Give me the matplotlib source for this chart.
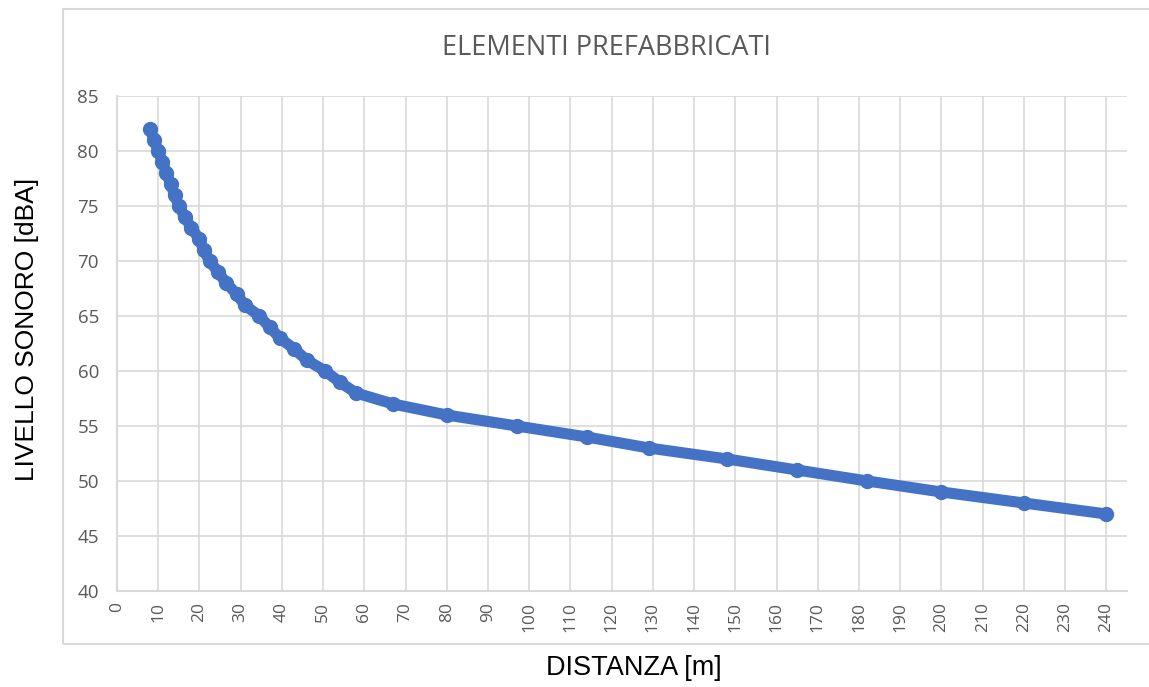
import matplotlib.pyplot as plt
from matplotlib.patches import Rectangle

# Sound level vs distance (one marker per dB step).
distance_m = [8, 9, 10, 11, 12, 13, 14, 15, 16.5, 18, 20, 21, 22.5, 24.5, 26.5,
              29, 31, 34.5, 37, 39.5, 43, 46, 50.5, 54, 58, 67, 80, 97, 114,
              129, 148, 165, 182, 200, 220, 240]
level_dba = [82, 81, 80, 79, 78, 77, 76, 75, 74, 73, 72, 71, 70, 69, 68,
             67, 66, 65, 64, 63, 62, 61, 60, 59, 58, 57, 56, 55, 54,
             53, 52, 51, 50, 49, 48, 47]

x_ticks = list(range(0, 250, 10))
y_ticks = list(range(40, 90, 5))

TITLE = "ELEMENTI PREFABBRICATI"
X_LABEL = "DISTANZA [m]"
Y_LABEL = "LIVELLO SONORO [dBA]"

LINE_COLOR = "#4472C4"
GRID_COLOR = "#D9D9D9"
TICK_COLOR = "#595959"
LABEL_FONT = ["Liberation Sans", "DejaVu Sans"]
TICK_FONT = ["Open Sans", "DejaVu Sans"]

fig = plt.figure(figsize=(11.49, 6.87), dpi=100)
ax = fig.add_axes([117 / 1149, 1 - 591 / 687, 1010 / 1149, 495 / 687])

# Excel-like chart area frame (runs off the right edge)
fig.patches.append(Rectangle((63 / 1149, 1 - 644 / 687), 1.0, (644 - 9) / 687,
                             transform=fig.transFigure, fill=False,
                             edgecolor=GRID_COLOR, linewidth=1.5, zorder=0))

ax.plot(distance_m, level_dba, color=LINE_COLOR, linewidth=8,
        marker="o", markersize=10, markerfacecolor=LINE_COLOR,
        markeredgecolor=LINE_COLOR, solid_capstyle="round", zorder=3)

ax.set_xlim(0, 245)
ax.set_ylim(40, 85)
ax.set_xticks(x_ticks)
ax.set_yticks(y_ticks)
ax.set_xticklabels([str(v) for v in x_ticks], rotation=90)
ax.tick_params(axis="both", length=0, colors=TICK_COLOR)
ax.tick_params(axis="y", pad=13, labelsize=13.5)
ax.tick_params(axis="x", pad=8, labelsize=12.5)
for lab in ax.get_xticklabels() + ax.get_yticklabels():
    lab.set_fontfamily(TICK_FONT)

ax.grid(True, color=GRID_COLOR, linewidth=1.2)
ax.set_axisbelow(True)
for side in ["top", "right"]:
    ax.spines[side].set_visible(False)
for side in ["left", "bottom"]:
    ax.spines[side].set_color(GRID_COLOR)
    ax.spines[side].set_linewidth(1.5)

fig.text(607 / 1149, 1 - 48 / 687, TITLE, ha="center", va="center",
         fontsize=19.5, color=TICK_COLOR, family=TICK_FONT)
fig.text(634 / 1149, 1 - 668 / 687, X_LABEL, ha="center", va="center",
         fontsize=19.5, color="black", family=LABEL_FONT)
fig.text(27 / 1149, 1 - 329 / 687, Y_LABEL, ha="center", va="center",
         rotation=90, fontsize=19, color="black", family=LABEL_FONT)

fig.savefig("out.png", dpi=100)
